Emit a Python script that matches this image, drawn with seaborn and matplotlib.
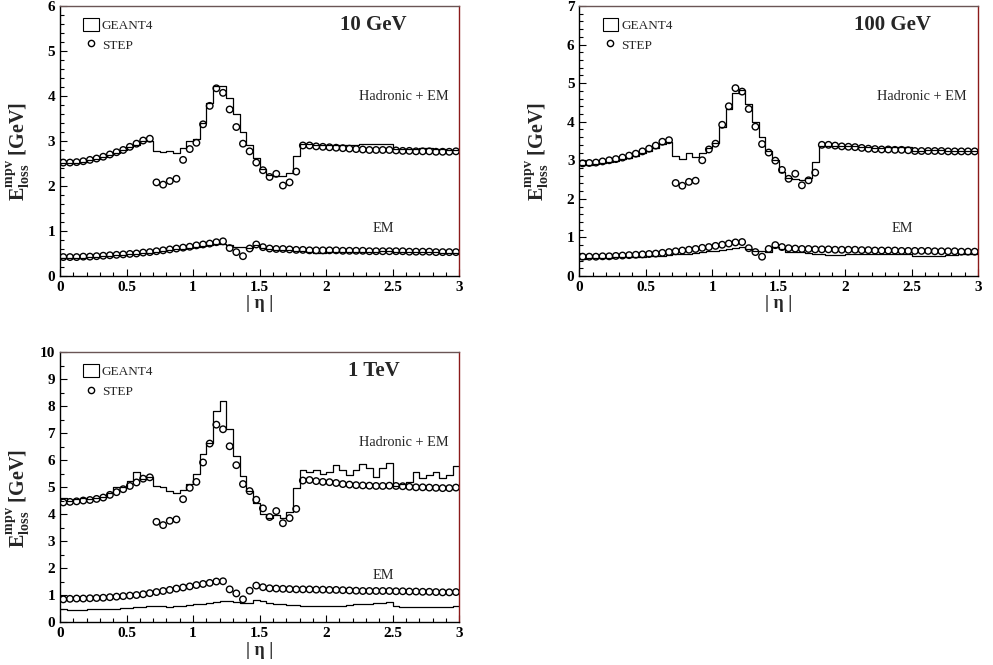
"""
Most probable energy loss vs |eta| for GEANT4 and STEP, three beam energies.
Run: python plot.py
"""

import numpy as np
import pandas as pd
import matplotlib
matplotlib.use("Agg")
import matplotlib.pyplot as plt
from matplotlib.patches import Patch
from matplotlib.lines import Line2D
from matplotlib.ticker import MultipleLocator
import seaborn as sns

# -------------------------------------------------------------------
# Data (60 bins of 0.05 in |eta|)
# -------------------------------------------------------------------
BIN_WIDTH = 0.05
ETA_RANGE = (0.0, 3.0)
ETA_CENTERS = np.arange(60) * BIN_WIDTH + BIN_WIDTH / 2

# 10 GeV
step10_had = [2.52, 2.52, 2.53, 2.55, 2.58, 2.61, 2.65, 2.70, 2.75, 2.80, 2.87, 2.94, 3.01, 3.05,
              2.08, 2.03, 2.11, 2.16, 2.58, 2.82, 2.96, 3.37, 3.78, 4.17, 4.07,
              3.70, 3.31, 2.94, 2.77, 2.52, 2.35, 2.20, 2.27, 2.01, 2.08, 2.32,
              2.90, 2.90, 2.88, 2.87, 2.86, 2.85, 2.84, 2.83, 2.82, 2.81, 2.80, 2.80,
              2.80, 2.80, 2.79, 2.78, 2.78, 2.77, 2.77, 2.77, 2.76, 2.76, 2.76, 2.77]
geant10_had = [2.50, 2.51, 2.52, 2.54, 2.57, 2.60, 2.64, 2.69, 2.74, 2.80, 2.86, 2.92, 2.99, 3.00,
               2.77, 2.75, 2.78, 2.73, 2.85, 3.00, 3.05, 3.40, 3.85, 4.22, 4.23,
               3.95, 3.60, 3.20, 2.90, 2.62, 2.38, 2.25, 2.22, 2.22, 2.28, 2.67,
               2.93, 2.93, 2.92, 2.92, 2.92, 2.92, 2.92, 2.92, 2.92, 2.93, 2.93, 2.93,
               2.94, 2.94, 2.82, 2.82, 2.82, 2.82, 2.84, 2.84, 2.83, 2.82, 2.81, 2.80]
step10_em = [0.42, 0.42, 0.42, 0.43, 0.43, 0.44, 0.45, 0.46, 0.47, 0.48, 0.49, 0.50, 0.52, 0.53,
             0.55, 0.57, 0.59, 0.61, 0.63, 0.65, 0.68, 0.70, 0.72, 0.75, 0.77,
             0.62, 0.53, 0.44, 0.61, 0.70, 0.64, 0.61, 0.60, 0.60, 0.59, 0.58,
             0.58, 0.57, 0.57, 0.57, 0.57, 0.57, 0.56, 0.56, 0.56, 0.56, 0.55, 0.55,
             0.55, 0.55, 0.55, 0.55, 0.54, 0.54, 0.54, 0.54, 0.53, 0.53, 0.53, 0.53]
geant10_em = [0.40, 0.40, 0.41, 0.41, 0.42, 0.43, 0.44, 0.45, 0.46, 0.47, 0.48, 0.49, 0.51, 0.52,
              0.54, 0.56, 0.58, 0.59, 0.61, 0.63, 0.65, 0.67, 0.69, 0.71, 0.72,
              0.68, 0.65, 0.65, 0.62, 0.68, 0.62, 0.60, 0.58, 0.58, 0.57, 0.56,
              0.55, 0.53, 0.52, 0.52, 0.53, 0.53, 0.53, 0.54, 0.54, 0.54, 0.54, 0.54,
              0.55, 0.55, 0.54, 0.54, 0.53, 0.53, 0.53, 0.53, 0.53, 0.52, 0.52, 0.52]

# 100 GeV
step100_had = [2.92, 2.93, 2.94, 2.97, 3.00, 3.03, 3.07, 3.12, 3.17, 3.23, 3.30, 3.38, 3.48, 3.52,
               2.41, 2.34, 2.44, 2.47, 3.00, 3.28, 3.43, 3.92, 4.40, 4.87, 4.78,
               4.33, 3.87, 3.42, 3.20, 2.99, 2.75, 2.52, 2.65, 2.35, 2.48, 2.68,
               3.40, 3.40, 3.38, 3.36, 3.35, 3.34, 3.32, 3.30, 3.29, 3.28, 3.28, 3.27,
               3.27, 3.26, 3.24, 3.24, 3.24, 3.24, 3.24, 3.23, 3.23, 3.23, 3.23, 3.23]
geant100_had = [2.88, 2.89, 2.90, 2.92, 2.95, 2.98, 3.02, 3.07, 3.12, 3.18, 3.25, 3.33, 3.42, 3.48,
                3.12, 3.03, 3.18, 3.08, 3.18, 3.32, 3.45, 3.86, 4.33, 4.75, 4.82,
                4.45, 4.00, 3.60, 3.25, 3.00, 2.70, 2.55, 2.52, 2.50, 2.55, 2.95,
                3.38, 3.38, 3.37, 3.37, 3.36, 3.36, 3.35, 3.34, 3.33, 3.33, 3.34, 3.35,
                3.35, 3.35, 3.25, 3.25, 3.26, 3.26, 3.26, 3.25, 3.25, 3.24, 3.24, 3.24]
step100_em = [0.50, 0.50, 0.50, 0.51, 0.51, 0.52, 0.53, 0.54, 0.55, 0.56, 0.57, 0.58, 0.60, 0.62,
              0.64, 0.66, 0.68, 0.70, 0.73, 0.75, 0.78, 0.81, 0.84, 0.87, 0.88,
              0.72, 0.62, 0.50, 0.70, 0.80, 0.75, 0.72, 0.71, 0.70, 0.70, 0.69,
              0.69, 0.69, 0.68, 0.68, 0.68, 0.68, 0.67, 0.67, 0.66, 0.66, 0.66, 0.66,
              0.65, 0.65, 0.65, 0.65, 0.65, 0.64, 0.64, 0.64, 0.64, 0.63, 0.63, 0.63]
geant100_em = [0.45, 0.46, 0.46, 0.47, 0.47, 0.48, 0.48, 0.49, 0.50, 0.50, 0.51, 0.52, 0.53, 0.55,
               0.57, 0.58, 0.57, 0.59, 0.62, 0.64, 0.66, 0.68, 0.70, 0.72, 0.75,
               0.70, 0.65, 0.65, 0.63, 0.75, 0.70, 0.62, 0.62, 0.62, 0.60, 0.58,
               0.58, 0.55, 0.55, 0.55, 0.56, 0.57, 0.57, 0.57, 0.57, 0.58, 0.58, 0.58,
               0.58, 0.58, 0.52, 0.52, 0.53, 0.53, 0.53, 0.55, 0.55, 0.56, 0.57, 0.57]

# 1 TeV
step1000_had = [4.44, 4.46, 4.48, 4.51, 4.53, 4.57, 4.62, 4.72, 4.82, 4.93, 5.05, 5.18, 5.32, 5.37,
                3.72, 3.60, 3.76, 3.81, 4.56, 4.98, 5.20, 5.92, 6.62, 7.32, 7.15,
                6.52, 5.82, 5.12, 4.86, 4.54, 4.22, 3.90, 4.12, 3.67, 3.86, 4.20,
                5.25, 5.27, 5.23, 5.20, 5.19, 5.16, 5.12, 5.10, 5.08, 5.07, 5.06, 5.05,
                5.05, 5.06, 5.05, 5.04, 5.02, 5.00, 5.00, 4.99, 4.98, 4.97, 4.97, 4.99]
geant1000_had = [4.60, 4.50, 4.55, 4.60, 4.55, 4.60, 4.65, 4.80, 5.00, 5.00, 5.22, 5.57, 5.30, 5.40,
                 5.05, 5.00, 4.85, 4.78, 4.90, 5.12, 5.50, 6.22, 6.63, 7.82, 8.18,
                 7.15, 6.15, 5.42, 4.85, 4.42, 4.00, 3.85, 3.97, 3.88, 4.10, 4.97,
                 5.64, 5.58, 5.65, 5.48, 5.58, 5.83, 5.64, 5.46, 5.64, 5.85, 5.70, 5.40,
                 5.70, 5.90, 5.06, 5.11, 5.20, 5.58, 5.33, 5.46, 5.58, 5.33, 5.46, 5.79]
step1000_em = [0.85, 0.87, 0.88, 0.88, 0.89, 0.90, 0.91, 0.93, 0.95, 0.97, 0.99, 1.01, 1.04, 1.08,
               1.12, 1.16, 1.20, 1.25, 1.29, 1.33, 1.38, 1.42, 1.46, 1.51, 1.52,
               1.22, 1.07, 0.85, 1.17, 1.36, 1.30, 1.26, 1.25, 1.24, 1.23, 1.22,
               1.22, 1.22, 1.21, 1.21, 1.20, 1.20, 1.19, 1.18, 1.17, 1.16, 1.16, 1.16,
               1.16, 1.16, 1.15, 1.15, 1.14, 1.14, 1.13, 1.13, 1.12, 1.11, 1.11, 1.12]
geant1000_em = [0.48, 0.47, 0.47, 0.47, 0.48, 0.48, 0.49, 0.50, 0.51, 0.52, 0.53, 0.55, 0.57, 0.59,
                0.62, 0.60, 0.58, 0.60, 0.62, 0.64, 0.66, 0.69, 0.72, 0.76, 0.80,
                0.78, 0.74, 0.70, 0.72, 0.82, 0.80, 0.70, 0.68, 0.66, 0.64, 0.63,
                0.62, 0.62, 0.61, 0.60, 0.60, 0.61, 0.62, 0.64, 0.66, 0.68, 0.69, 0.70,
                0.72, 0.74, 0.60, 0.57, 0.56, 0.57, 0.58, 0.58, 0.58, 0.57, 0.58, 0.60]

PANEL_TITLES = ["10 GeV", "100 GeV", "1 TeV"]
PANEL_YMAX = [6, 7, 10]

# -------------------------------------------------------------------
# Style
# -------------------------------------------------------------------
sns.set_theme(style="ticks")
SERIF = "Liberation Serif"
plt.rcParams["font.family"] = [SERIF, "DejaVu Serif"]
plt.rcParams["mathtext.fontset"] = "custom"
plt.rcParams["mathtext.bf"] = f"{SERIF}:bold"
plt.rcParams["mathtext.rm"] = f"{SERIF}:bold"


def draw_panel(ax, title, ymax, step_had, geant_had, step_em, geant_em):
    for geant, step in ((geant_had, step_had), (geant_em, step_em)):
        df = pd.DataFrame({"eta": ETA_CENTERS, "geant": geant, "step": step})
        sns.histplot(data=df, x="eta", weights="geant", binwidth=BIN_WIDTH,
                     binrange=ETA_RANGE, element="step", fill=False, color="black",
                     linewidth=0.9, ax=ax)
        sns.scatterplot(data=df, x="eta", y="step", marker="o", s=22, facecolors="none",
                        edgecolor="black", linewidth=1.0, ax=ax, zorder=3)

    ax.set_xlim(*ETA_RANGE)
    ax.set_ylim(0, ymax)
    ax.xaxis.set_major_locator(MultipleLocator(0.5))
    ax.xaxis.set_minor_locator(MultipleLocator(0.1))
    ax.yaxis.set_major_locator(MultipleLocator(1))
    ax.yaxis.set_minor_locator(MultipleLocator(0.5 if ymax > 8 else 0.2))
    ax.xaxis.set_major_formatter(plt.FuncFormatter(lambda v, p: f"{v:g}"))
    ax.tick_params(which="both", direction="in", top=False, right=False, width=0.8,
                   colors="black")
    ax.tick_params(which="major", length=5, labelsize=11, pad=3.5)
    ax.tick_params(which="minor", length=2.6)
    for lab in ax.get_xticklabels() + ax.get_yticklabels():
        lab.set_fontweight("bold")

    ax.spines["left"].set_color("black")
    ax.spines["bottom"].set_color("black")
    ax.spines["top"].set_color("#6a5555")
    ax.spines["right"].set_color("#8b1a1a")
    for sp in ax.spines.values():
        sp.set_linewidth(1.0)

    ax.set_xlabel("| η |", fontsize=13, fontweight="bold")
    ax.xaxis.set_label_coords(0.5, -0.072)
    ax.set_ylabel(r"$\mathbf{E}_{\mathbf{loss}}^{\mathbf{mpv}}$ [GeV]", fontsize=14.5,
                  fontweight="bold")
    ax.yaxis.set_label_coords(-0.07, 0.46)

    ax.text(0.785, 0.93, title, transform=ax.transAxes, ha="center", va="center",
            fontsize=15, fontweight="bold")
    ax.text(0.86, 0.665, "Hadronic + EM", transform=ax.transAxes, ha="center",
            va="center", fontsize=10.3)
    ax.text(0.81, 0.175, "EM", transform=ax.transAxes, ha="center", va="center",
            fontsize=10.3)

    handles = [Patch(facecolor="white", edgecolor="black", linewidth=0.8),
               Line2D([], [], marker="o", linestyle="", markersize=4.5,
                      markerfacecolor="none", markeredgecolor="black", markeredgewidth=1.0)]
    ax.legend(handles, ["GEANT4", "STEP"], loc="upper left", bbox_to_anchor=(0.045, 0.975),
              frameon=False, fontsize=9.5, handlelength=1.2, handleheight=1.1,
              handletextpad=0.2, labelspacing=0.45, borderaxespad=0)


# -------------------------------------------------------------------
# Figure
# -------------------------------------------------------------------
fig = plt.figure(figsize=(9.93, 6.65), dpi=100)
axes = [
    fig.add_axes([0.0604, 0.585, 0.4021, 0.406]),
    fig.add_axes([0.5834, 0.585, 0.4015, 0.406]),
    fig.add_axes([0.0604, 0.0642, 0.4021, 0.406]),
]
series = [
    (step10_had, geant10_had, step10_em, geant10_em),
    (step100_had, geant100_had, step100_em, geant100_em),
    (step1000_had, geant1000_had, step1000_em, geant1000_em),
]
for ax, title, ymax, data in zip(axes, PANEL_TITLES, PANEL_YMAX, series):
    draw_panel(ax, title, ymax, *data)

fig.savefig("out.png", dpi=100)
plt.close(fig)
